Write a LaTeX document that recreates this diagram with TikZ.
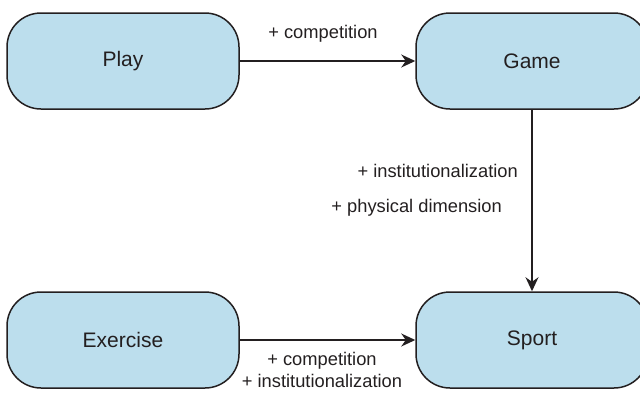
\documentclass[tikz,border=0pt]{standalone}
\usepackage{fontspec}
\setmainfont{Liberation Sans}
\usetikzlibrary{arrows.meta}
\definecolor{boxfill}{RGB}{188,222,237}
\definecolor{ink}{RGB}{35,31,32}
\tikzset{
  stagebox/.style={draw=ink, line width=1.5pt, fill=boxfill, rounded corners=34pt,
    minimum width=232pt, minimum height=96pt, inner sep=0pt,
    font=\fontsize{21}{24}\selectfont, text=ink},
  link/.style={draw=ink, line width=1.5pt, -{Stealth[length=14pt,width=13pt,inset=4.5pt]}},
  lbl/.style={font=\fontsize{18.3}{21}\selectfont, text=ink, inner sep=0pt}
}
\begin{document}
\begin{tikzpicture}[x=1pt,y=-1pt]
\useasboundingbox (0,0) rectangle (640,392);
\clip (0,0) rectangle (640,392);
\node[stagebox] (play) at (123,61) {Play};
\node[stagebox] (game) at (532,61) {Game};
\node[stagebox] (exercise) at (123,340) {Exercise};
\node[stagebox] (sport) at (532,340) {Sport};
\draw[link] (play.east) -- (game.west);
\draw[link] (game.south) -- (sport.north);
\draw[link] (exercise.east) -- (sport.west);
\node[lbl, anchor=base] (l1) at (323,38) {+ competition};
\node[lbl, anchor=base east] (l2) at (518,177) {+ institutionalization};
\node[lbl, anchor=base east] (l3) at (502,212) {+ physical dimension};
\node[lbl, anchor=base] (l4) at (322,365) {+ competition};
\node[lbl, anchor=base] (l5) at (322,387) {+ institutionalization};
\end{tikzpicture}
\end{document}
